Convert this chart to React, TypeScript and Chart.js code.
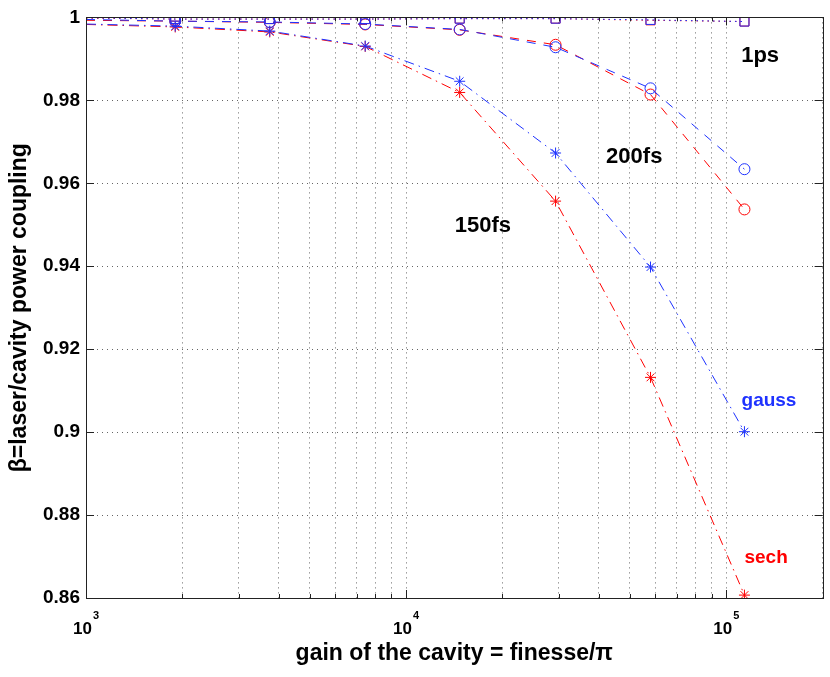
import { useEffect, useRef } from "react"
import { Chart, registerables } from "chart.js"

Chart.register(...registerables)

// cavity gain (finesse / pi) at which every pulse was computed
const gains = [1000, 1900, 3750, 7450, 14700, 29300, 58000, 114000]

// power coupling, 150 fs pulses
const sech150 = [0.9983, 0.9977, 0.9965, 0.993, 0.9819, 0.9557, 0.9132, 0.8607]
const gauss150 = [0.9984, 0.9979, 0.9967, 0.9931, 0.9846, 0.9673, 0.9398, 0.9001]
// power coupling, 200 fs pulses
const sech200 = [0.9993, 0.9991, 0.9988, 0.9983, 0.997, 0.9934, 0.9814, 0.9537]
const gauss200 = [0.9995, 0.9991, 0.9989, 0.9984, 0.9971, 0.9928, 0.9829, 0.9634]
// power coupling, 1 ps pulses
const sech1ps = [0.9998, 0.9996, 0.9996, 0.9996, 0.9997, 0.9997, 0.9993, 0.999]
const gauss1ps = [0.9999, 0.9996, 0.9996, 0.9996, 0.9997, 0.9997, 0.9994, 0.999]

// x axis: decades that get a 10^n label, and the log grid
const xTickPowers = [3, 4, 5]
const xGrid: number[] = []
for (let p = 3; p <= 5; p++) {
	for (let s = 1; s <= 9; s++) xGrid.push(s * 10 ** p)
}
xGrid.splice(xGrid.indexOf(3 * 10 ** 5))
// y axis
const yMin = 0.86
const yMax = 1
const yStep = 0.02

const notes = [
	{ text: "1ps", x: 127600, y: 0.9907, color: "#000", size: 22 },
	{ text: "200fs", x: 51600, y: 0.9664, color: "#000", size: 22 },
	{ text: "150fs", x: 17380, y: 0.9497, color: "#000", size: 22 },
	{ text: "gauss", x: 136000, y: 0.9076, color: "rgb(30,50,255)", size: 19 },
	{ text: "sech", x: 133200, y: 0.8697, color: "rgb(255,0,0)", size: 19 },
]

const FONT = "'Liberation Sans', Arial, Helvetica, sans-serif"
const RED = "rgb(255,0,0)"
const BLUE = "rgb(30,50,255)"

const DASHED = [9, 8]
const DASH_DOT = [10, 5, 1.5, 5]
const DOTTED = [1.5, 4]

const framePlugin = {
	id: "frame",
	afterDraw(chart: any) {
		const { ctx, chartArea: a, scales } = chart
		const xs = scales.x
		const ys = scales.y
		ctx.save()
		ctx.strokeStyle = "#222"
		ctx.lineWidth = 1
		ctx.setLineDash([])
		ctx.beginPath()
		xs.ticks.forEach((t: any) => {
			const px = Math.round(xs.getPixelForValue(t.value)) + 0.5
			const lg = Math.log10(t.value)
			const len = Math.abs(lg - Math.round(lg)) < 1e-9 ? 8 : 4
			ctx.moveTo(px, a.bottom)
			ctx.lineTo(px, a.bottom - len)
			ctx.moveTo(px, a.top)
			ctx.lineTo(px, a.top + len)
		})
		ys.ticks.forEach((t: any) => {
			const py = Math.round(ys.getPixelForValue(t.value)) + 0.5
			ctx.moveTo(a.left, py)
			ctx.lineTo(a.left + 8, py)
			ctx.moveTo(a.right, py)
			ctx.lineTo(a.right - 8, py)
		})
		ctx.stroke()
		ctx.strokeRect(Math.round(a.left) + 0.5, Math.round(a.top) + 0.5, Math.round(a.width), Math.round(a.height))

		// 10^n labels under the x axis
		ctx.fillStyle = "#000"
		ctx.textAlign = "left"
		ctx.textBaseline = "alphabetic"
		xTickPowers.forEach((p) => {
			const px = xs.getPixelForValue(10 ** p)
			ctx.font = `bold 17px ${FONT}`
			const w1 = ctx.measureText("10").width
			ctx.font = `bold 11px ${FONT}`
			const w2 = ctx.measureText(String(p)).width
			const left = px - (w1 + 1 + w2) / 2
			ctx.font = `bold 17px ${FONT}`
			ctx.fillText("10", left, a.bottom + 36)
			ctx.font = `bold 11px ${FONT}`
			ctx.fillText(String(p), left + w1 + 1, a.bottom + 21)
		})

		// curve labels
		ctx.textAlign = "center"
		ctx.textBaseline = "middle"
		notes.forEach((n) => {
			ctx.font = `bold ${n.size}px ${FONT}`
			ctx.fillStyle = n.color
			ctx.fillText(n.text, xs.getPixelForValue(n.x), ys.getPixelForValue(n.y))
		})
		ctx.restore()
	},
}

function series(label: string, values: number[], color: string, style: string, dash: number[], radius: number) {
	return {
		label,
		data: gains.map((g, i) => ({ x: g, y: values[i] })),
		borderColor: color,
		backgroundColor: "transparent",
		borderWidth: 1,
		borderDash: dash,
		tension: 0,
		fill: false,
		pointStyle: style,
		pointRadius: gains.map((_, i) => (i === 0 ? 0 : radius)),
		pointBorderColor: color,
		pointBackgroundColor: "transparent",
		pointBorderWidth: 1,
	}
}

export default function App() {
	const chartRef = useRef<HTMLCanvasElement>(null)
	const chartInstance = useRef<Chart | null>(null)

	useEffect(() => {
		if (!chartRef.current) return
		if (chartInstance.current) chartInstance.current.destroy()

		const gridColor = "rgba(0,0,0,0.6)"

		chartInstance.current = new Chart(chartRef.current, {
			type: "line",
			data: {
				datasets: [
					// first dataset is drawn on top, so blue goes first
					series("gauss 1ps", gauss1ps, BLUE, "rect", DOTTED, 6.4),
					series("gauss 200fs", gauss200, BLUE, "circle", DASHED, 5.5),
					series("gauss 150fs", gauss150, BLUE, "star", DASH_DOT, 5.5),
					series("sech 1ps", sech1ps, RED, "rect", DOTTED, 6.4),
					series("sech 200fs", sech200, RED, "circle", DASHED, 5.5),
					series("sech 150fs", sech150, RED, "star", DASH_DOT, 5.5),
				] as any,
			},
			options: {
				responsive: false,
				animation: false,
				layout: { padding: { left: 0, right: 7, top: 17, bottom: 0 } },
				plugins: {
					legend: { display: false },
					tooltip: { enabled: false },
				},
				scales: {
					x: {
						type: "logarithmic",
						min: 1000,
						max: 200000,
						afterBuildTicks: (axis: any) => {
							axis.ticks = xGrid.map((v) => ({ value: v }))
						},
						afterFit: (axis: any) => {
							axis.height = 79
						},
						ticks: { display: false },
						grid: { color: gridColor, drawTicks: false, lineWidth: 1 },
						border: { display: true, color: "#222", dash: [1, 4] },
						title: {
							display: true,
							text: "gain of the cavity = finesse/π",
							color: "#000",
							font: { family: FONT, size: 23, weight: "bold" },
							padding: { top: 0, bottom: 10 },
						},
					},
					y: {
						type: "linear",
						min: yMin,
						max: yMax,
						ticks: {
							stepSize: yStep,
							color: "#000",
							padding: 6,
							font: { family: FONT, size: 19, weight: "bold" },
							callback: (v: any) => String(parseFloat(Number(v).toFixed(2))),
						},
						afterFit: (axis: any) => {
							axis.width = 86
						},
						grid: { color: gridColor, drawTicks: false, lineWidth: 1 },
						border: { display: true, color: "#222", dash: [1, 4] },
						title: {
							display: true,
							text: "β=laser/cavity power coupling",
							color: "#000",
							font: { family: FONT, size: 23, weight: "bold" },
							padding: { top: 6, bottom: 0 },
						},
					},
				},
			} as any,
			plugins: [framePlugin],
		})

		return () => {
			if (chartInstance.current) {
				chartInstance.current.destroy()
				chartInstance.current = null
			}
		}
	}, [])

	return (
		<div style={{ position: "fixed", left: 0, top: 0, width: 830, height: 677, background: "#fff" }}>
			<canvas ref={chartRef} width={830} height={677}></canvas>
		</div>
	)
}
